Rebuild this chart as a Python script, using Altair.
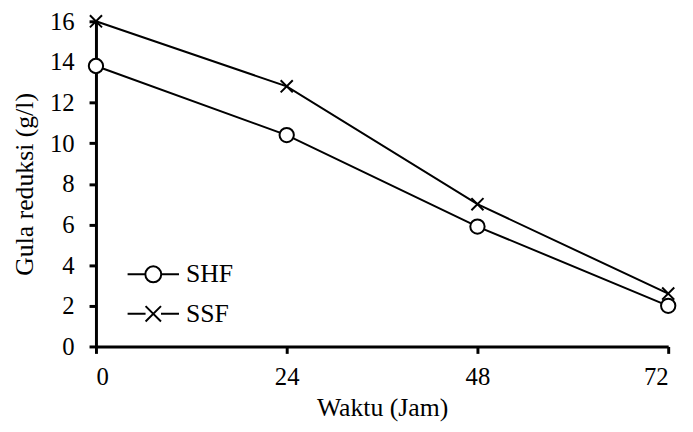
import altair as alt
import pandas as pd

waktu = [0, 24, 48, 72]
shf = [13.8, 10.4, 5.9, 2.0]
ssf = [16.0, 12.8, 7.0, 2.6]
series = ["SHF", "SSF"]
x_ticks = [0, 24, 48, 72]
y_ticks = [0, 2, 4, 6, 8, 10, 12, 14, 16]

rows = []
for name, vals in zip(series, [shf, ssf]):
    for t, v in zip(waktu, vals):
        rows.append({"Waktu": t, "Gula": v, "Seri": name})
df = pd.DataFrame(rows)

FONT = "Liberation Serif"

circle_path = "circle"
x_path = "M-1,-1L1,1M-1,1L1,-1"
leg_circle = "M-1,0L-0.31,0M0.31,0A0.31,0.31,0,1,1,-0.31,0A0.31,0.31,0,1,1,0.31,0M0.31,0L1,0"
leg_x = "M-1,0L-0.3,0M0.3,0L1,0M-0.3,-0.3L0.3,0.3M-0.3,0.3L0.3,-0.3"

axis_common = dict(grid=False, domainColor="black", domainWidth=3, tickColor="black",
                   tickWidth=3, tickSize=7, labelFont=FONT, labelFontSize=25,
                   labelColor="black", titleFont=FONT, titleFontSize=26,
                   titleColor="black", titleFontWeight="normal", format="d")

xenc = alt.X("Waktu:Q", scale=alt.Scale(domain=[0, 72], nice=False),
             axis=alt.Axis(values=x_ticks, title="Waktu (Jam)", labelPadding=11,
                           titlePadding=6, **axis_common))
yenc = alt.Y("Gula:Q", scale=alt.Scale(domain=[0, 16], nice=False),
             axis=alt.Axis(values=y_ticks, title="Gula reduksi (g/l)", labelPadding=15,
                           titlePadding=12, **axis_common))

base = alt.Chart(df)

lines = base.mark_line(color="black", strokeWidth=2).encode(
    x=xenc, y=yenc, detail="Seri:N"
)

points = base.mark_point(filled=True, fill="white", stroke="black", strokeWidth=2, opacity=1).encode(
    x=xenc, y=yenc,
    shape=alt.Shape("Seri:N", scale=alt.Scale(domain=series, range=[circle_path, x_path]), legend=None),
    size=alt.Size("Seri:N", scale=alt.Scale(domain=series, range=[210, 150]), legend=None),
)

legend_layer = base.transform_filter("datum.Gula < -100").mark_point(
    filled=False, stroke="black", color="black", strokeWidth=2
).encode(
    x=xenc, y=yenc,
    shape=alt.Shape("Seri:N", scale=alt.Scale(domain=series, range=[leg_circle, leg_x]),
                    legend=alt.Legend(title=None, orient="none", legendX=31, legendY=229,
                                      symbolSize=2704, symbolStrokeWidth=2,
                                      symbolStrokeColor="black", symbolFillColor="white",
                                      symbolOpacity=1, labelFontSize=26, labelFont=FONT,
                                      labelColor="black", labelOffset=6, padding=0,
                                      rowPadding=-13)),
)

chart = alt.layer(lines, points, legend_layer).resolve_scale(
    shape="independent", size="independent"
).properties(
    width=579, height=329,
    padding={"left": 89, "top": 11, "right": 17, "bottom": 76},
    autosize=alt.AutoSizeParams(type="none"),
).configure_view(stroke=None)

chart.save("out.html", embed_options={"renderer": "svg", "actions": False})
